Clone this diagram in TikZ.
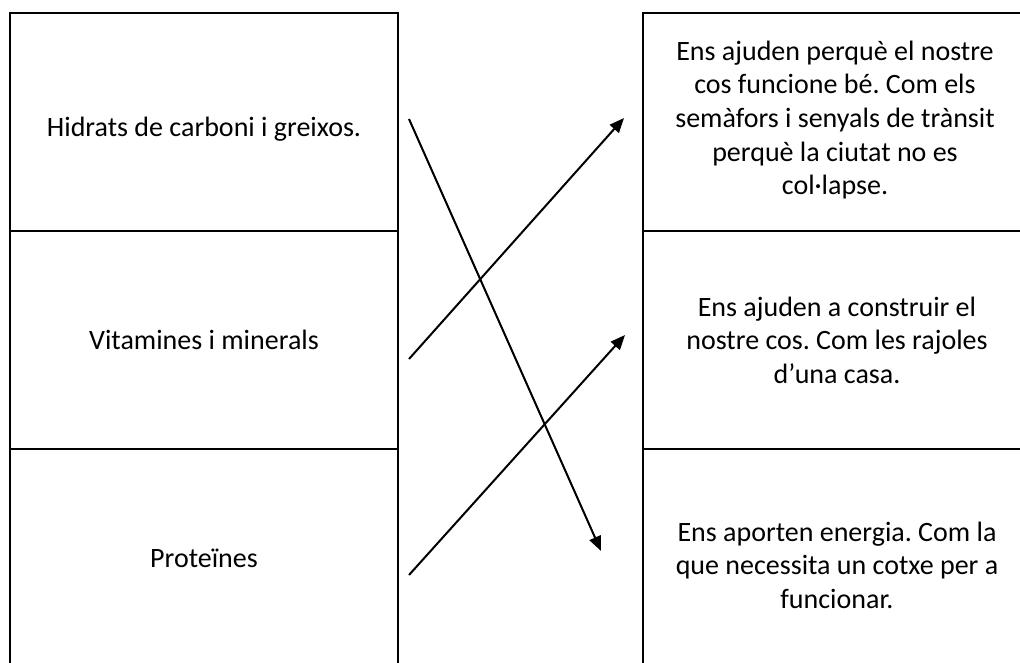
\documentclass[tikz,border=0pt]{standalone}
\usepackage{fontspec}
\setmainfont{Carlito}
\frenchspacing
\usetikzlibrary{arrows.meta}
\begin{document}
\begin{tikzpicture}[x=0.75pt,y=-0.75pt,
  cell/.style={draw=black,line width=2.2pt,minimum width=291pt,minimum height=163.5pt,inner sep=0pt},
  txt/.style={align=center,inner sep=0pt,font=\fontsize{21}{25.2}\selectfont},
  link/.style={line width=1.5pt,-{Triangle[length=11pt,width=9pt]}}]
\useasboundingbox (0,0) rectangle (1020,662);
% table cells
\node[cell] (l1) at (204,122) {};
\node[cell] (l2) at (204,340) {};
\node[cell] (l3) at (204,558) {};
\node[cell] (r1) at (837,122) {};
\node[cell] (r2) at (837,340) {};
\node[cell] (r3) at (837,558) {};
% texts
\node[txt] (t1) at (204,129) {Hidrats de carboni i greixos.};
\node[txt] (t2) at (204,340) {Vitamines i minerals};
\node[txt] (t3) at (204,558) {Proteïnes};
\node[txt] (u1) at (835,120) {Ens ajuden perquè el nostre\\cos funcione bé. Com els\\semàfors i senyals de trànsit\\perquè la ciutat no es\\col·lapse.};
\node[txt] (u2) at (837,340) {Ens ajuden a construir el\\nostre cos. Com les rajoles\\d’una casa.};
\node[txt] (u3) at (837,565) {Ens aporten energia. Com la\\que necessita un cotxe per a\\funcionar.};
% arrows
\coordinate (a1s) at (409,119);
\coordinate (a1e) at (601,551);
\coordinate (a2s) at (409,359);
\coordinate (a2e) at (624,118);
\coordinate (a3s) at (409,575);
\coordinate (a3e) at (625,335);
\draw[link] (a1s) -- (a1e);
\draw[link] (a2s) -- (a2e);
\draw[link] (a3s) -- (a3e);
\end{tikzpicture}
\end{document}
